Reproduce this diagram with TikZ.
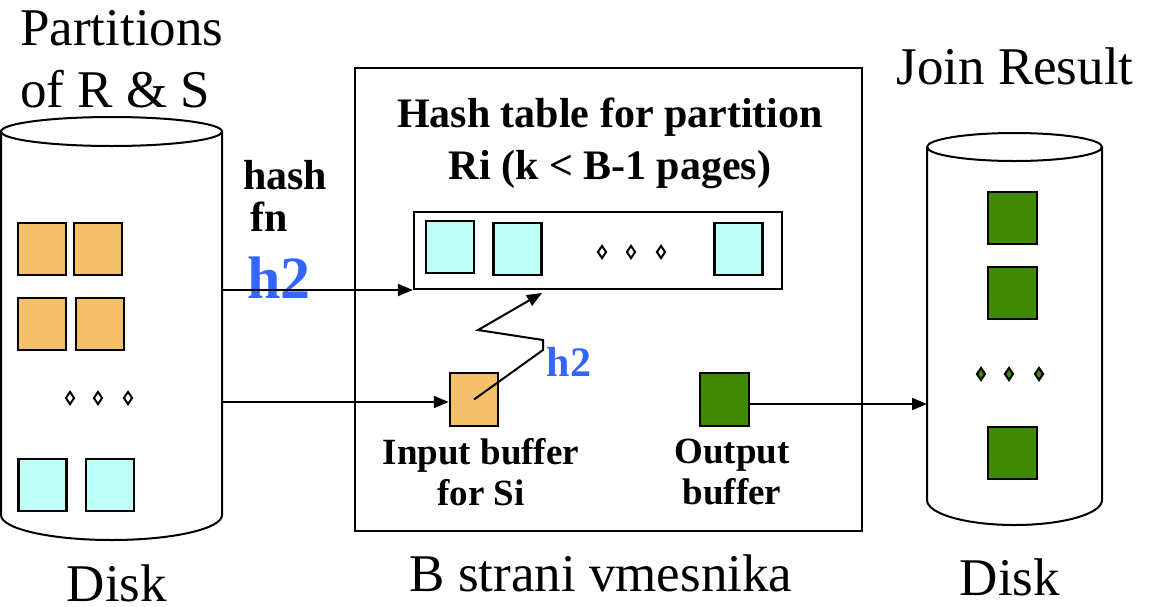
\documentclass[tikz,border=0pt]{standalone}
\usepackage{fontspec}
\setmainfont{Liberation Serif}
\usetikzlibrary{arrows.meta,shapes.geometric}

\definecolor{pageorange}{HTML}{F5C06B}
\definecolor{pagecyan}{HTML}{C0FFF8}
\definecolor{pagegreen}{HTML}{3F8A00}
\definecolor{hashblue}{HTML}{3366FF}

\begin{document}
\begin{tikzpicture}[x=1pt,y=-1pt]
% estilos
\tikzset{
  page/.style={rectangle, draw, line width=2.5pt, minimum width=48pt, minimum height=52pt, inner sep=0pt},
  rpage/.style={page, fill=pageorange},
  spage/.style={page, fill=pagecyan},
  jpage/.style={page, fill=pagegreen},
  frame/.style={rectangle, draw, line width=2.2pt, inner sep=0pt},
  dots/.style={diamond, draw, line width=2pt, minimum width=9pt, minimum height=13pt, inner sep=0pt},
  disk/.style={line width=2pt},
  arr/.style={line width=2pt, -{Triangle[length=15pt,width=12pt]}},
  big/.style={font=\fontsize{53}{62}\selectfont, inner sep=0pt},
  lbl/.style={font=\fontsize{42}{52}\selectfont\bfseries, inner sep=0pt},
  buf/.style={font=\fontsize{37}{41}\selectfont\bfseries, inner sep=0pt, align=center}
}
\useasboundingbox (0,0) rectangle (1155,606);

% Disco esquerdo: particoes de R e S
\draw[disk] (111.5,131.5) ellipse [x radius=110.5pt, y radius=14.5pt];
\draw[disk] (1,131.5) -- (1,515) arc [start angle=180, end angle=360, x radius=110.5pt, y radius=25pt] -- (222,131.5);
\node[rpage] (r1) at (42,249) {};
\node[rpage] (r2) at (98,249) {};
\node[rpage] (r3) at (42,324) {};
\node[rpage] (r4) at (100,324) {};
\node[dots] (ld1) at (70,398) {};
\node[dots] (ld2) at (98,398) {};
\node[dots] (ld3) at (128,398) {};
\node[spage] (s1) at (42.5,485) {};
\node[spage] (s2) at (110,485) {};
\coordinate (outA) at (222,290);
\coordinate (outB) at (222,402);

% Memoria: B paginas
\node[frame, minimum width=507pt, minimum height=463pt] (pool) at (608.5,299.5) {};
\node[frame, minimum width=368pt, minimum height=77pt] (htab) at (598,250.5) {};
\node[spage] (h1) at (450,247) {};
\node[spage] (h2) at (517.5,249) {};
\node[dots] (hd1) at (602,252) {};
\node[dots] (hd2) at (631,252) {};
\node[dots] (hd3) at (661,252) {};
\node[spage] (h3) at (738.5,249) {};
\node[rpage, minimum height=53pt] (inbuf) at (474,399.5) {};
\node[jpage, minimum width=49pt, minimum height=53pt] (outbuf) at (724.5,399.5) {};

% Disco direito: resultado
\draw[disk] (1014.5,147) ellipse [x radius=87.5pt, y radius=14pt];
\draw[disk] (927,147) -- (927,500) arc [start angle=180, end angle=360, x radius=87.5pt, y radius=25pt] -- (1102,147);
\node[jpage, minimum width=49pt] (j1) at (1012.5,218) {};
\node[jpage, minimum width=49pt] (j2) at (1012.5,293) {};
\node[dots, fill=pagegreen] (rd1) at (981,374) {};
\node[dots, fill=pagegreen] (rd2) at (1009,374) {};
\node[dots, fill=pagegreen] (rd3) at (1039,374) {};
\node[jpage, minimum width=49pt] (j3) at (1012.5,453) {};
\coordinate (inJ) at (927,404);

% Textos
\node[big, align=left, anchor=north west] (partsT) at (20,10) {Partitions\\of R \& S};
\node[big, anchor=base] (joinT) at (1015,84) {Join Result};
\node[big, anchor=base] (diskL) at (117,601) {Disk};
\node[big, anchor=base] (diskR) at (1010,595) {Disk};
\node[big, anchor=base] (poolT) at (601,591) {B strani vmesnika};
\node[lbl, align=center, anchor=north] (htabT) at (610,98) {Hash table for partition\\Ri (k < B-1 pages)};
\node[lbl, align=left, anchor=north west, font=\fontsize{42}{42}\selectfont\bfseries] (fnT) at (243,160) {hash\\\,fn};
\node[inner sep=0pt, anchor=base, text=hashblue, font=\fontsize{60}{60}\selectfont\bfseries] (hA) at (279,298) {h2};
\node[lbl, anchor=base, text=hashblue] (hB) at (569,376) {h2};
\node[buf, anchor=north] (inT) at (481,438) {Input buffer\\for Si};
\node[buf, anchor=north] (outT) at (732,439) {Output\\buffer};

% Setas
\coordinate (z1) at (543,350);
\coordinate (z2) at (543,340);
\coordinate (z3) at (478,330);
\coordinate (z4) at (542,293);
\draw[arr] (outA) -- (outA -| htab.west);
\draw[arr] (outB) -- (outB -| inbuf.west);
\draw[arr, line join=miter] (inbuf.center) -- (z1) -- (z2) -- (z3) -- (z4);
\draw[arr] (outbuf.east |- inJ) -- (inJ);

\end{tikzpicture}
\end{document}
